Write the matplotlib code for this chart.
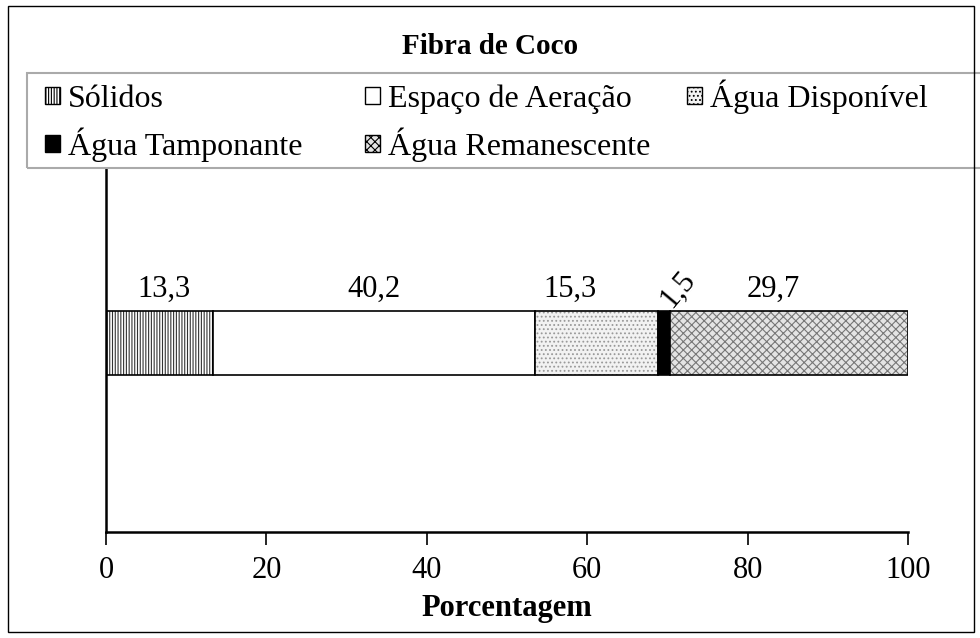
import matplotlib
matplotlib.use("Agg")
import matplotlib.pyplot as plt
from matplotlib.patches import Rectangle

plt.rcParams['font.family'] = ['Liberation Serif', 'DejaVu Serif']
plt.rcParams['hatch.linewidth'] = 0.8

title = "Fibra de Coco"
categories = ["Sólidos", "Espaço de Aeração", "Água Disponível",
              "Água Tamponante", "Água Remanescente"]
values = [13.3, 40.2, 15.3, 1.5, 29.7]
value_labels = ["13,3", "40,2", "15,3", "1,5", "29,7"]
xticks = [0, 20, 40, 60, 80, 100]
xlabel = "Porcentagem"

# styling
faces = ["white", "white", "#f2f2f2", "black", "#e4e4e4"]
hatches = ["||||||", "", "....", "", "xxxx"]
hatch_cols = ["#333333", "black", "#999999", "black", "#777777"]
label_dx = [0.6, 0.0, -3.3, 1.8, -2.0]
label_rot = [0, 0, 0, 50, 0]
# Excel-style legend grid: (column x px, row baseline px) per entry
legend_col_x = [45, 365, 687, 45, 365]
legend_row_base = [107, 107, 107, 155, 155]

W, H = 980, 638
fig = plt.figure(figsize=(W / 100, H / 100), dpi=100)
ax = fig.add_axes([106 / W, (H - 532) / H, (908 - 106) / W, (532 - 168) / H])

bar_y, bar_h = 0.52, 0.176
left = 0.0
handles = []
for i, (cat, v) in enumerate(zip(categories, values)):
    b = ax.barh(bar_y, v, left=left, height=bar_h, color=faces[i],
                edgecolor=hatch_cols[i], hatch=hatches[i], linewidth=0,
                label=cat)
    ax.barh(bar_y, v, left=left, height=bar_h, color="none",
            edgecolor="black", linewidth=1.2)
    handles.append(b)
    ax.text(left + v / 2 + label_dx[i], bar_y + bar_h / 2 + 0.06,
            value_labels[i], ha="center", va="center", fontsize=22,
            rotation=label_rot[i])
    left += v

ax.set_xlim(0, 100)
ax.set_ylim(0, 1)
ax.set_yticks([])
ax.set_xticks(xticks)
ax.set_xticklabels([str(t) for t in xticks], fontsize=22)
ax.tick_params(axis="x", direction="out", length=9, width=1.2, pad=8)
for s in ["top", "right"]:
    ax.spines[s].set_visible(False)
for s in ["left", "bottom"]:
    ax.spines[s].set_linewidth(1.8)
ax.set_xlabel(xlabel, fontsize=22, fontweight="bold", labelpad=7)

fig.text(490 / W, 1 - 46 / H, title, ha="center", va="center",
         fontsize=21, fontweight="bold")

# legend frame
fig.patches.append(Rectangle((27 / W, (H - 168) / H), (990 - 27) / W, (168 - 73) / H,
                             transform=fig.transFigure, fill=False,
                             edgecolor="#aaaaaa", linewidth=1.5))
desc = 7  # px of text descent below baseline
for k in range(len(categories)):
    leg = fig.legend(handles=[handles[k]], labels=[categories[k]],
                     loc="lower left",
                     bbox_to_anchor=(legend_col_x[k] / W,
                                     1 - (legend_row_base[k] + desc) / H),
                     bbox_transform=fig.transFigure, borderaxespad=0,
                     borderpad=0, fontsize=23, frameon=False,
                     handlelength=0.47, handleheight=0.47, handletextpad=0.25)
    for h in leg.legend_handles:
        h.set_linewidth(1.0)
        h.set_edgecolor("black")

fig.patches.append(Rectangle((8 / W, 6 / H), (974 - 8) / W, (632 - 6) / H,
                             transform=fig.transFigure, fill=False,
                             edgecolor="black", linewidth=1.0))

fig.savefig("out.png", dpi=100)
